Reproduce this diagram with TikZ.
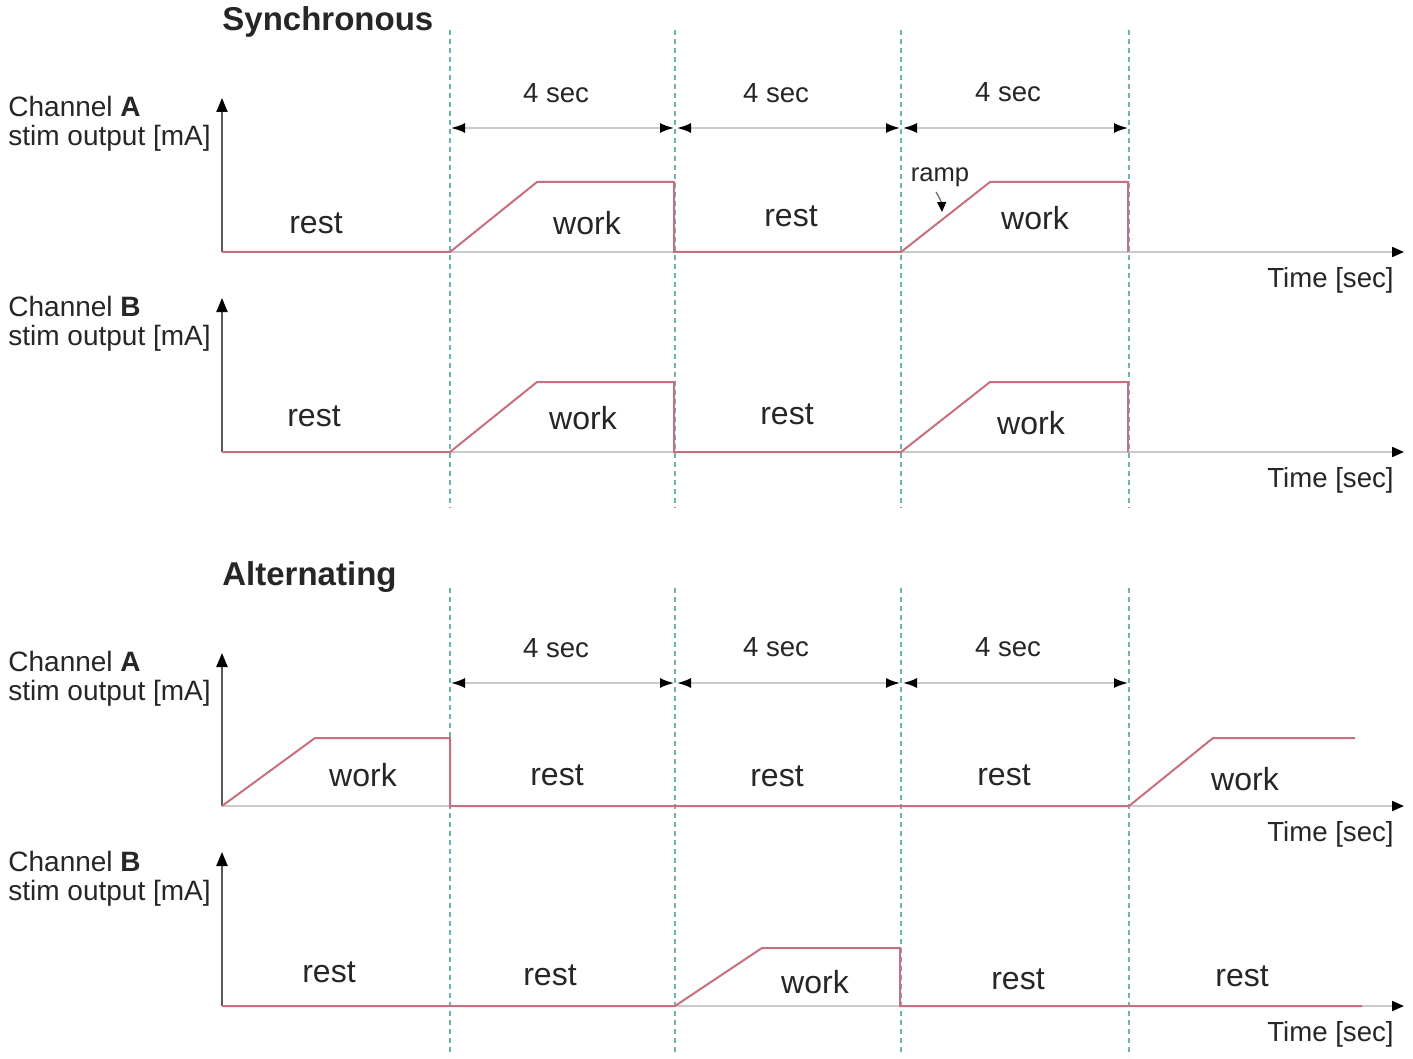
\documentclass[tikz,border=0pt]{standalone}
\usepackage{fontspec}
\setmainfont{Liberation Sans}
\usetikzlibrary{arrows.meta}
\definecolor{sig}{HTML}{C8707E}
\definecolor{guide}{HTML}{6AB5B0}
\definecolor{axisgray}{HTML}{CACACA}
\definecolor{txt}{HTML}{262626}
\begin{document}
\begin{tikzpicture}[x=0.5pt,y=-0.5pt,
  lbl/.style={font=\fontsize{16}{18}\selectfont, text=txt, inner sep=0pt},
  small/.style={font=\fontsize{13.8}{16}\selectfont, text=txt, inner sep=0pt},
  chan/.style={font=\fontsize{14}{14.5}\selectfont, text=txt, inner sep=0pt, align=left, anchor=north west},
  ttl/.style={font=\bfseries\fontsize{16.5}{18}\selectfont, text=txt, inner sep=0pt, anchor=west},
  timelbl/.style={font=\fontsize{13.8}{16}\selectfont, text=txt, inner sep=0pt, anchor=east},
  guideline/.style={guide, line width=0.8pt, dash pattern=on 2.5pt off 2pt},
  yaxis/.style={draw=black!65, line width=1.1pt, -{Triangle[black,length=7pt,width=5.5pt]}},
  taxis/.style={draw=axisgray, line width=1pt, -{Triangle[black,length=6pt,width=5pt]}},
  signal/.style={draw=sig, line width=1pt, line join=miter},
  dim/.style={draw=axisgray, line width=0.9pt, {Latex[black,length=7pt,width=5pt]}-{Latex[black,length=7pt,width=5pt]}}
]
\useasboundingbox[fill=white] (0,0) rectangle (1413,1059);

% ---------- guide lines ----------
\foreach \gx/\gn in {450/a,675/b,901/c,1129/d}{
  \coordinate (gt\gn) at (\gx,30);
  \coordinate (gm\gn) at (\gx,508);
  \coordinate (gu\gn) at (\gx,588);
  \coordinate (gb\gn) at (\gx,1056);
  \draw[guideline] (gt\gn) -- (gm\gn);
  \draw[guideline] (gu\gn) -- (gb\gn);
}

% ---------- titles ----------
\node[ttl] (tsync) at (222,22) {Synchronous};
\node[ttl] (talt) at (222,577) {Alternating};

% ---------- channel labels ----------
\node[chan] (c1) at (8,96) {Channel \textbf{A}\\stim output [mA]};
\node[chan] (c2) at (8,296) {Channel \textbf{B}\\stim output [mA]};
\node[chan] (c3) at (8,651) {Channel \textbf{A}\\stim output [mA]};
\node[chan] (c4) at (8,851) {Channel \textbf{B}\\stim output [mA]};

% ---------- axes ----------
\foreach \oy/\ty/\n in {252/98/1,452/298/2,806/653/3,1006/852/4}{
  \coordinate (o\n) at (222,\oy);
  \coordinate (ytop\n) at (222,\ty);
  \coordinate (xend\n) at (1404,\oy);
  \draw[taxis] (o\n) -- (xend\n);
  \draw[yaxis] (o\n) -- (ytop\n);
}
\node[timelbl] (tl1) at (1394,280) {Time [sec]};
\node[timelbl] (tl2) at (1394,480) {Time [sec]};
\node[timelbl] (tl3) at (1394,834) {Time [sec]};
\node[timelbl] (tl4) at (1394,1034) {Time [sec]};

% ---------- dimension arrows ----------
\foreach \dy/\s in {128/u,683/l}{
  \coordinate (d1\s) at (451,\dy);
  \coordinate (d2\s) at (674,\dy);
  \coordinate (d3\s) at (677,\dy);
  \coordinate (d4\s) at (900,\dy);
  \coordinate (d5\s) at (903,\dy);
  \coordinate (d6\s) at (1128,\dy);
  \draw[dim] (d1\s) -- (d2\s);
  \draw[dim] (d3\s) -- (d4\s);
  \draw[dim] (d5\s) -- (d6\s);
}
\node[small] (s1) at (556,93) {4 sec};
\node[small] (s2) at (776,93) {4 sec};
\node[small] (s3) at (1008,92) {4 sec};
\node[small] (s4) at (556,648) {4 sec};
\node[small] (s5) at (776,647) {4 sec};
\node[small] (s6) at (1008,647) {4 sec};

% ---------- signals ----------
% Synchronous A
\draw[signal] (222,252) -- (450,252) -- (537,182) -- (674,182) -- (674,252)
  -- (901,252) -- (990,182) -- (1128,182) -- (1128,252);
% Synchronous B
\draw[signal] (222,452) -- (450,452) -- (537,382) -- (674,382) -- (674,452)
  -- (901,452) -- (990,382) -- (1128,382) -- (1128,452);
% Alternating A
\draw[signal] (222,806) -- (315,738) -- (450,738) -- (450,806) -- (1129,806)
  -- (1213,738) -- (1355,738);
% Alternating B
\draw[signal] (222,1006) -- (675,1006) -- (762,948) -- (900,948) -- (900,1006)
  -- (1362,1006);

% ---------- phase labels ----------
\node[lbl] (r1) at (316,223) {rest};
\node[lbl] (w1) at (587,223) {work};
\node[lbl] (r2) at (791,216) {rest};
\node[lbl] (w2) at (1035,218) {work};

\node[lbl] (r3) at (314,416) {rest};
\node[lbl] (w3) at (583,418) {work};
\node[lbl] (r4) at (787,414) {rest};
\node[lbl] (w4) at (1031,423) {work};

\node[lbl] (w5) at (363,775) {work};
\node[lbl] (r5) at (557,775) {rest};
\node[lbl] (r6) at (777,776) {rest};
\node[lbl] (r7) at (1004,775) {rest};
\node[lbl] (w6) at (1245,779) {work};

\node[lbl] (r8) at (329,972) {rest};
\node[lbl] (r9) at (550,975) {rest};
\node[lbl] (w7) at (815,982) {work};
\node[lbl] (r10) at (1018,979) {rest};
\node[lbl] (r11) at (1242,976) {rest};

% ---------- ramp annotation ----------
\node[small, font=\fontsize{12.8}{14}\selectfont] (ramp) at (940,177) {ramp};
\coordinate (rampend) at (942,212);
\draw[draw=black!60, line width=0.6pt, -{Triangle[black,length=5pt,width=4.5pt]}]
  (936,192) to[bend left=15] (rampend);
\end{tikzpicture}
\end{document}
